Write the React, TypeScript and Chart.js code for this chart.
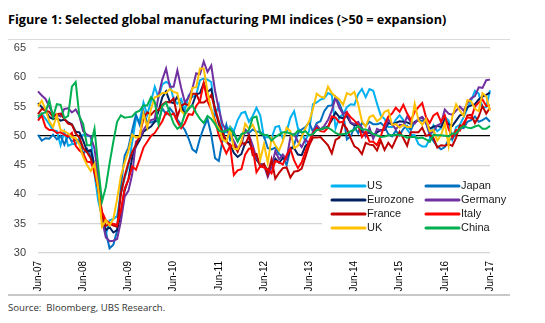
import React, { useEffect, useRef } from 'react';
import { Chart, registerables } from 'chart.js';

Chart.register(...registerables);

const monthNames = ['Jan', 'Feb', 'Mar', 'Apr', 'May', 'Jun', 'Jul', 'Aug', 'Sep', 'Oct', 'Nov', 'Dec'];
// Categories: monthly, Jun-07 .. Jun-17
const categories: string[] = [];
for (let i = 0; i <= 120; i++) {
  const m = (5 + i) % 12;
  const y = 7 + Math.floor((5 + i) / 12);
  categories.push(`${monthNames[m]}-${String(y).padStart(2, '0')}`);
}

const us = [
  53.0, 53.8, 52.9, 52.0, 50.9, 50.8, 48.4, 50.7, 48.3, 48.6, 48.6, 49.6,
  50.2, 50.0, 49.9, 43.5, 38.9, 36.2, 33.1, 35.6, 35.8, 36.3, 40.1, 42.8,
  44.8, 48.9, 52.9, 52.6, 55.7, 53.6, 55.9, 58.4, 56.5, 58.8, 59.2, 58.9,
  56.2, 55.5, 56.3, 54.4, 56.9, 56.6, 57.0, 59.5, 59.8, 59.6, 59.2, 53.5,
  55.3, 50.9, 50.6, 51.6, 50.8, 52.7, 53.9, 54.1, 52.4, 53.4, 54.8, 53.5,
  49.7, 49.8, 49.6, 51.5, 51.7, 49.5, 50.7, 53.1, 54.2, 51.3, 50.7, 49.0,
  50.9, 55.4, 55.7, 56.2, 56.4, 57.3, 57.0, 51.3, 53.2, 53.7, 54.9, 55.4,
  55.3, 57.1, 58.0, 56.6, 58.0, 57.7, 55.5, 53.5, 52.9, 51.5, 51.5, 52.8,
  53.5, 52.7, 51.1, 50.2, 50.1, 48.6, 48.2, 48.2, 49.5, 51.8, 50.8, 51.3,
  53.2, 52.6, 49.4, 51.5, 51.9, 53.2, 54.7, 56.0, 57.7, 57.2, 54.8, 54.9,
  57.8,
];

const japan = [
  50.2, 49.2, 49.6, 49.5, 50.2, 49.4, 50.0, 48.5, 50.1, 49.0, 49.3, 49.1,
  46.9, 47.8, 46.4, 45.2, 42.2, 36.4, 33.6, 30.8, 31.4, 33.8, 41.4, 46.6,
  48.0, 50.9, 53.6, 51.9, 54.3, 52.3, 52.3, 52.5, 52.5, 54.7, 53.7, 54.7,
  53.9, 52.8, 51.9, 51.0, 49.5, 47.7, 47.2, 49.6, 51.4, 52.9, 50.2, 46.2,
  45.7, 49.3, 51.9, 49.3, 50.6, 49.1, 50.2, 51.1, 50.5, 51.1, 50.7, 50.7,
  49.9, 47.9, 47.7, 48.0, 46.9, 46.5, 45.0, 47.7, 48.5, 50.4, 51.1, 51.5,
  52.3, 50.7, 52.2, 52.5, 54.2, 55.1, 55.2, 56.6, 55.5, 53.9, 49.4, 49.9,
  51.5, 50.5, 52.2, 51.7, 52.4, 52.0, 52.0, 52.2, 51.6, 50.3, 49.9, 50.9,
  50.1, 51.2, 51.7, 51.0, 52.4, 52.6, 52.6, 52.3, 50.1, 49.1, 48.2, 47.7,
  48.1, 49.3, 49.5, 50.4, 51.4, 51.3, 52.4, 52.7, 53.3, 52.4, 52.7, 53.1,
  52.4,
];

const eurozone = [
  55.6, 54.9, 54.3, 53.2, 52.9, 53.0, 52.6, 52.8, 52.3, 52.0, 50.7, 50.6,
  49.2, 47.4, 47.6, 45.0, 41.1, 35.6, 33.9, 34.4, 33.5, 33.9, 36.8, 40.7,
  42.6, 46.3, 48.2, 49.3, 50.7, 51.2, 51.6, 52.4, 54.2, 56.6, 57.6, 55.8,
  55.6, 56.7, 55.1, 53.7, 54.6, 55.3, 57.1, 57.3, 59.0, 57.5, 58.0, 54.6,
  52.0, 50.4, 49.0, 48.5, 47.1, 46.4, 46.9, 48.8, 49.0, 47.7, 45.9, 45.1,
  45.1, 44.0, 45.1, 46.1, 45.4, 46.2, 46.1, 47.9, 47.9, 46.8, 46.7, 48.3,
  48.8, 50.3, 51.4, 51.1, 51.3, 51.6, 52.7, 54.0, 53.2, 53.0, 53.4, 52.2,
  51.8, 51.8, 50.7, 50.3, 50.6, 50.1, 50.6, 51.0, 51.0, 52.2, 52.0, 52.2,
  52.5, 52.4, 52.3, 52.0, 52.3, 52.8, 53.2, 52.3, 51.2, 51.6, 51.7, 51.5,
  52.8, 52.0, 51.7, 52.6, 53.5, 53.7, 54.9, 55.2, 55.4, 56.2, 56.7, 57.0,
  57.4,
];

const germany = [
  57.6, 56.9, 56.3, 55.0, 53.7, 53.6, 53.3, 54.6, 54.7, 54.0, 54.5, 53.4,
  50.8, 50.2, 49.9, 47.8, 42.9, 35.7, 32.7, 32.0, 32.1, 32.4, 35.4, 39.6,
  40.6, 43.4, 49.0, 49.6, 51.0, 52.0, 52.7, 52.9, 56.9, 59.6, 61.5, 58.4,
  58.4, 61.2, 58.2, 55.7, 56.6, 58.1, 60.7, 60.5, 62.7, 60.9, 62.0, 57.7,
  54.6, 52.0, 50.9, 50.3, 49.1, 47.9, 48.4, 51.0, 50.2, 48.4, 46.2, 45.2,
  45.0, 43.0, 44.7, 47.4, 46.0, 46.8, 46.0, 49.8, 50.3, 49.0, 48.1, 49.4,
  48.6, 50.7, 51.8, 51.1, 51.7, 52.7, 54.3, 56.5, 54.8, 53.7, 54.1, 52.3,
  52.0, 52.4, 51.4, 49.9, 51.4, 49.5, 51.2, 50.9, 51.1, 52.8, 52.0, 51.1,
  51.9, 51.8, 53.3, 52.3, 52.1, 52.9, 53.2, 52.3, 50.5, 50.7, 51.8, 52.1,
  54.5, 53.8, 53.6, 54.3, 55.0, 54.3, 55.6, 56.4, 56.8, 58.3, 58.2, 59.5,
  59.6,
];

const france = [
  53.7, 54.6, 54.3, 54.1, 53.2, 53.7, 53.8, 52.9, 52.1, 51.9, 50.4, 49.7,
  47.9, 47.2, 46.2, 43.6, 41.0, 36.5, 34.6, 35.0, 34.7, 34.5, 40.1, 43.1,
  45.4, 47.2, 48.5, 50.0, 53.0, 54.0, 53.6, 54.3, 54.4, 55.3, 55.8, 55.7,
  56.4, 53.3, 55.1, 55.5, 55.2, 57.2, 57.2, 55.7, 55.7, 56.2, 57.0, 54.6,
  52.5, 50.5, 49.1, 48.2, 48.5, 47.3, 48.9, 48.5, 50.0, 46.7, 46.9, 44.7,
  45.2, 43.4, 46.0, 42.7, 43.7, 44.5, 44.6, 42.9, 43.9, 44.0, 44.4, 46.4,
  48.4, 49.7, 49.7, 49.8, 49.1, 48.4, 47.0, 49.3, 49.7, 52.1, 51.2, 49.6,
  48.2, 47.8, 46.9, 48.8, 48.5, 48.4, 47.5, 49.2, 47.6, 48.8, 48.0, 49.4,
  50.7, 49.6, 48.3, 50.6, 50.6, 50.6, 51.4, 50.0, 50.2, 49.6, 48.0, 48.4,
  48.3, 48.6, 48.3, 49.7, 51.8, 51.7, 53.5, 53.6, 52.2, 53.3, 55.1, 53.8,
  54.8,
];

const italy = [
  52.6, 53.5, 51.5, 51.0, 51.0, 50.5, 50.6, 50.2, 49.9, 50.5, 48.3, 47.5,
  47.0, 45.6, 45.5, 44.0, 41.0, 37.0, 35.6, 35.1, 35.0, 34.8, 37.2, 41.0,
  42.5, 44.8, 44.2, 46.0, 48.0, 49.0, 50.0, 50.5, 51.5, 52.5, 54.0, 53.5,
  53.8, 52.4, 51.3, 52.2, 53.7, 53.6, 55.1, 56.0, 59.0, 55.9, 54.5, 52.6,
  50.1, 48.4, 47.0, 48.3, 43.3, 44.1, 44.3, 46.8, 47.8, 47.9, 43.8, 44.8,
  44.6, 44.3, 43.6, 45.7, 45.5, 45.1, 46.7, 47.8, 45.8, 44.5, 45.5, 47.3,
  49.1, 50.4, 51.3, 50.8, 50.7, 51.4, 53.3, 53.1, 52.3, 52.4, 54.0, 53.2,
  52.6, 51.9, 49.8, 50.7, 49.0, 49.0, 48.4, 49.9, 51.9, 53.3, 53.8, 54.8,
  54.1, 55.3, 53.8, 52.7, 54.1, 54.9, 55.6, 53.2, 52.2, 53.5, 53.9, 52.4,
  53.5, 51.2, 49.8, 51.0, 50.9, 52.2, 53.2, 53.0, 55.0, 55.7, 56.2, 55.1,
  55.2,
];

const uk = [
  55.0, 56.0, 54.5, 52.5, 51.5, 53.5, 51.0, 50.8, 50.4, 49.8, 49.6, 48.5,
  46.4, 45.0, 44.0, 45.2, 41.0, 34.5, 35.6, 34.7, 35.8, 39.2, 43.1, 45.4,
  47.4, 50.2, 49.7, 49.9, 53.8, 51.4, 54.6, 56.6, 56.8, 57.3, 57.3, 58.0,
  57.5, 57.3, 54.3, 53.6, 54.9, 58.2, 58.3, 61.5, 61.5, 57.5, 54.6, 52.1,
  51.4, 49.4, 49.0, 51.1, 47.8, 47.7, 49.1, 52.1, 51.2, 51.9, 50.5, 45.9,
  48.6, 45.4, 49.6, 48.4, 47.5, 49.1, 51.4, 50.8, 47.9, 48.3, 49.8, 51.3,
  52.5, 54.6, 57.2, 56.7, 56.5, 58.4, 57.3, 56.7, 56.2, 55.3, 57.3, 57.0,
  57.5, 55.4, 52.5, 51.6, 53.2, 53.5, 52.5, 53.0, 54.1, 54.4, 51.9, 52.0,
  51.4, 51.9, 51.5, 51.5, 55.5, 52.7, 51.9, 52.9, 50.8, 51.0, 49.2, 50.1,
  52.1, 48.3, 53.3, 55.4, 54.3, 53.4, 56.1, 55.9, 54.6, 54.2, 57.3, 56.7,
  54.3,
];

const china = [
  53.3, 53.8, 54.0, 56.1, 53.2, 55.4, 55.3, 53.0, 53.4, 58.4, 59.2, 53.3,
  52.0, 48.4, 48.4, 51.2, 44.6, 38.8, 41.2, 45.3, 49.0, 52.4, 53.5, 53.1,
  53.2, 53.3, 54.0, 54.3, 55.2, 55.2, 56.6, 55.8, 52.0, 55.1, 55.7, 53.9,
  52.1, 51.2, 51.7, 53.8, 54.7, 55.2, 53.9, 52.9, 52.2, 53.4, 52.9, 52.0,
  50.9, 50.7, 50.9, 51.2, 50.4, 49.0, 50.3, 50.5, 51.0, 53.1, 53.3, 50.4,
  50.2, 50.1, 49.2, 49.8, 50.2, 50.6, 50.6, 50.4, 50.1, 50.9, 50.6, 50.8,
  50.1, 50.3, 51.0, 51.1, 51.4, 51.4, 51.0, 50.5, 50.2, 50.3, 50.4, 50.8,
  51.0, 51.7, 51.1, 51.1, 50.8, 50.3, 50.1, 49.8, 49.9, 50.1, 50.1, 50.2,
  50.2, 50.0, 49.7, 49.8, 49.8, 49.6, 49.7, 49.4, 49.0, 50.2, 50.1, 50.1,
  50.0, 49.9, 50.4, 50.4, 51.2, 51.7, 51.4, 51.3, 51.6, 51.8, 51.2, 51.2,
  51.7,
];

const seriesNames = ['US', 'Japan', 'Eurozone', 'Germany', 'France', 'Italy', 'UK', 'China'];
const seriesValues = [us, japan, eurozone, germany, france, italy, uk, china];
const seriesColors = ['#00B0F0', '#0070C0', '#002060', '#7030A0', '#C00000', '#FF0000', '#FFC000', '#00B050'];

const yTicks = [30, 35, 40, 45, 50, 55, 60, 65];

const legendPlugin = {
  id: 'insetLegend',
  afterDraw(chart: any) {
    const { ctx, chartArea } = chart;
    const x0 = chartArea.left + 294;
    const y0 = chartArea.top + 124;
    ctx.save();
    ctx.fillStyle = '#ffffff';
    ctx.fillRect(x0 - 10, y0, 200, 68);
    ctx.font = '11px "Liberation Sans", Arial, sans-serif';
    ctx.textBaseline = 'middle';
    ctx.textAlign = 'left';
    chart.data.datasets.forEach((ds: any, i: number) => {
      const col = i % 2;
      const row = Math.floor(i / 2);
      const lx = x0 + col * 94;
      const ly = y0 + 14 + row * 14;
      ctx.strokeStyle = ds.borderColor;
      ctx.lineWidth = 3;
      ctx.lineCap = 'round';
      ctx.beginPath();
      ctx.moveTo(lx, ly);
      ctx.lineTo(lx + 33, ly);
      ctx.stroke();
      ctx.fillStyle = '#1a1a1a';
      ctx.fillText(ds.label, lx + 35, ly);
    });
    ctx.restore();
  },
};

export default function App() {
  const ref = useRef<HTMLCanvasElement | null>(null);
  useEffect(() => {
    if (!ref.current) return;
    const n = seriesNames.length;
    const chart = new Chart(ref.current, {
      type: 'line',
      data: {
        labels: categories,
        datasets: seriesNames.map((name, i) => ({
          label: name,
          data: seriesValues[i],
          borderColor: seriesColors[i],
          backgroundColor: seriesColors[i],
          borderWidth: 2,
          pointRadius: 0,
          tension: 0,
          order: n - 1 - i,
        })),
      },
      options: {
        animation: false,
        responsive: false,
        layout: { padding: { top: 8, right: 17, left: 0, bottom: 0 } },
        plugins: { legend: { display: false }, tooltip: { enabled: false } },
        scales: {
          x: {
            type: 'category',
            offset: false,
            grid: { display: false, drawTicks: false },
            border: { display: false },
            ticks: {
              autoSkip: false,
              minRotation: 90,
              maxRotation: 90,
              padding: 8,
              color: '#000000',
              font: { family: '"Liberation Sans", Arial, sans-serif', size: 10 },
              callback: function (this: any, value: any, index: number) {
                return index % 12 === 0 ? categories[index] : null;
              },
            },
            afterFit: (s: any) => { s.height = 41; },
          },
          y: {
            min: 30,
            max: 65,
            afterBuildTicks: (s: any) => { s.ticks = yTicks.map((v) => ({ value: v })); },
            grid: {
              drawTicks: true,
              tickLength: 12,
              tickColor: 'rgba(0,0,0,0)',
              color: (c: any) => (c.tick && c.tick.value === 50 ? '#000000' : '#d4d4d4'),
              lineWidth: 1.2,
            },
            border: { display: false },
            ticks: {
              padding: 0,
              color: '#404040',
              font: { family: '"Liberation Sans", Arial, sans-serif', size: 11 },
            },
            afterFit: (s: any) => { s.width = 30; },
          },
        },
      },
      plugins: [legendPlugin],
    });
    return () => chart.destroy();
  }, []);

  return (
    <div style={{ width: 502, fontFamily: '"Open Sans", sans-serif' }}>
      <div
        style={{
          height: 32,
          lineHeight: '22px',
          fontWeight: 700,
          fontSize: 12.7,
          color: '#000',
          borderBottom: '1px solid #dcdcdc',
          boxSizing: 'border-box',
          whiteSpace: 'nowrap',
        }}
      >
        Figure 1: Selected global manufacturing PMI indices (&gt;50 = expansion)
      </div>
      <canvas ref={ref} width={502} height={254} style={{ display: 'block', width: 502, height: 254 }} />
      <div
        style={{
          borderTop: '2px solid #c8c8c8',
          fontSize: 9.6,
          lineHeight: '16px',
          color: '#333',
          paddingTop: 4,
          whiteSpace: 'pre',
        }}
      >
        {'Source:  Bloomberg, UBS Research.'}
      </div>
    </div>
  );
}
